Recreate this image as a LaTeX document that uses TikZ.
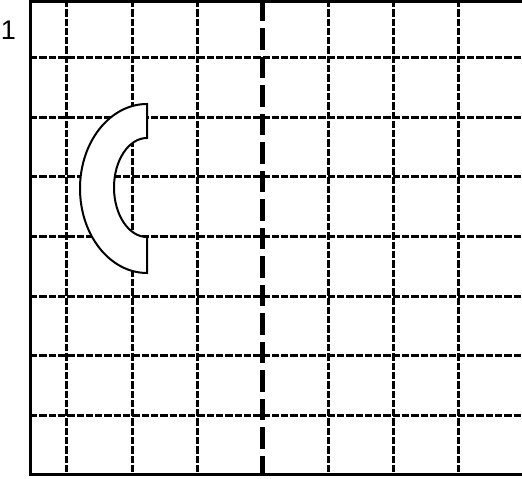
\documentclass[tikz,border=0pt]{standalone}
\usepackage{fontspec}
\setmainfont{Liberation Sans}
\begin{document}
\begin{tikzpicture}[x=1pt,y=1pt,
  thingrid/.style={line width=3pt,dash pattern=on 7.3pt off 2pt},
  thickgrid/.style={line width=5pt,dash pattern=on 21.5pt off 7pt},
  frame/.style={line width=3pt},
  cshape/.style={draw=black,fill=white,line width=2pt,line join=miter}]
\useasboundingbox (0,0) rectangle (522,479);
% horizontal grid lines
\foreach \y in {421,361,302,242,182,123,63}
  \draw[thingrid] (30,\y) -- (522,\y);
% vertical grid lines
\foreach \x in {66,132,197,328,393,458}
  \draw[thingrid] (\x,479) -- (\x,4);
\draw[thickgrid] (262.5,479) -- (262.5,4);
% frame
\draw[frame] (30,479) -- (30,4) -- (522,4);
\draw[frame] (30,477.7) -- (522,477.7);
% C-shaped half annulus
\draw[cshape] (147,375) arc[start angle=90,end angle=270,x radius=67,y radius=84.5]
  -- (147,242) arc[start angle=270,end angle=90,x radius=33,y radius=49.5] -- cycle;
% label
\node[font=\fontsize{27}{30}\selectfont,inner sep=0pt] (lab) at (8.5,448.5) {1};
\end{tikzpicture}
\end{document}
